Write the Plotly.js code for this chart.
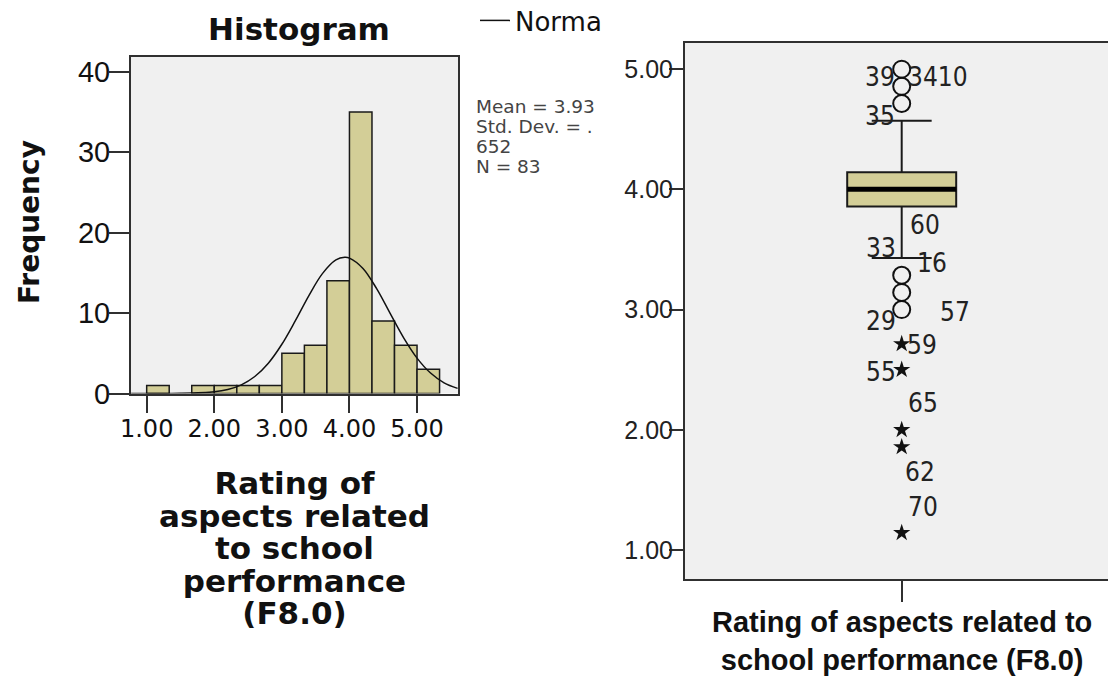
<!DOCTYPE html>
<html>
<head>
<meta charset="utf-8">
<script src="https://cdn.plot.ly/plotly-3.0.1.min.js"></script>
<style>html,body{margin:0;padding:0;background:#fff;}#chart{width:1108px;height:679px;}</style>
</head>
<body>
<div id="chart"></div>
<script>
// ---------- Histogram data ----------
const binStart = [1.0, 1.6667, 2.0, 2.3333, 2.6667, 3.0, 3.3333, 3.6667, 4.0, 4.3333, 4.6667, 5.0];
const binCount = [1, 1, 1, 1, 1, 5, 6, 14, 35, 9, 6, 3];
const binWidth = 1 / 3;
// Normal curve
const normX = [0.77, 1.0, 1.5, 2.0, 2.2, 2.4, 2.6, 2.8, 3.0, 3.2, 3.4, 3.6, 3.8, 3.93, 4.0, 4.2, 4.4, 4.6, 4.8, 5.0, 5.2, 5.4, 5.6];
const normY = [0, 0, 0.02, 0.21, 0.5, 1.08, 2.11, 3.77, 6.12, 9.05, 12.17, 14.9, 16.6, 16.93, 16.83, 15.54, 13.06, 9.99, 6.95, 4.4, 2.54, 1.33, 0.64];
const statsLines = ['Mean = 3.93', 'Std. Dev. = .', '652', 'N = 83'];
const histTitle = 'Histogram';
const histYTitle = 'Frequency';
const histXTitleLines = ['Rating of', 'aspects related', 'to school', 'performance', '(F8.0)'];
const legendName = 'Norma';

// ---------- Boxplot data ----------
const boxQ1 = 3.857;
const boxMedian = 4.0;
const boxQ3 = 4.143;
const boxLowerFence = 3.429;
const boxUpperFence = 4.571;
const outlierCircles = [5.0, 4.857, 4.714, 3.286, 3.143, 3.0];
const outlierStars = [2.714, 2.5, 2.0, 1.857, 1.143];
const caseLabels = ['39', '3410', '35', '60', '33', '16', '29', '57', '59', '55', '65', '62', '70'];
const caseLabelValues = [5.0, 5.0, 4.714, 3.286, 3.286, 3.143, 3.0, 3.0, 2.714, 2.5, 2.0, 1.857, 1.143];
const boxXTitleLines = ['Rating of aspects related to', 'school performance (F8.0)'];

// ---------- Styles / positions ----------
const W = 1108, H = 679;
const px = v => v / W;
const py = v => (H - v) / H;
const khaki = '#d3ce97';
const frame = '#303030';
const boxWidth = 1.09;
const labelShifts = [[-22, -8], [36, -8], [-22, -12], [23, 50], [-21, 27], [30, 29], [-21, -11], [53, -2], [20, -1], [-21, -2], [21, 27], [18, -25], [21, 26]];
const sized = (lines, size) => lines.map(l => '<span style="font-size:' + size + 'px">' + l + '</span>').join('<br>');

const traces = [
  {
    type: 'bar', x: binStart, y: binCount, width: binWidth, offset: 0,
    marker: {color: khaki, line: {color: '#1a1a1a', width: 1.5}},
    xaxis: 'x', yaxis: 'y', showlegend: false, hoverinfo: 'skip'
  },
  {
    type: 'scatter', mode: 'lines', x: normX, y: normY, name: legendName,
    line: {color: '#111', width: 1.5, shape: 'spline'},
    xaxis: 'x', yaxis: 'y', showlegend: true
  },
  {
    type: 'box', x: [0], q1: [boxQ1], median: [boxMedian], q3: [boxQ3],
    lowerfence: [boxLowerFence], upperfence: [boxUpperFence],
    width: boxWidth, whiskerwidth: 0.55, boxpoints: false,
    fillcolor: khaki, line: {color: '#1a1a1a', width: 2},
    xaxis: 'x2', yaxis: 'y2', showlegend: false
  },
  {
    type: 'scatter', mode: 'lines', x: [-boxWidth / 2, boxWidth / 2], y: [boxMedian, boxMedian],
    line: {color: '#000', width: 5}, xaxis: 'x2', yaxis: 'y2', showlegend: false
  },
  {
    type: 'scatter', mode: 'markers', x: outlierCircles.map(() => 0), y: outlierCircles,
    marker: {symbol: 'circle-open', size: 17, color: '#111', line: {width: 2, color: '#111'}},
    xaxis: 'x2', yaxis: 'y2', showlegend: false
  },
  {
    type: 'scatter', mode: 'markers', x: outlierStars.map(() => 0), y: outlierStars,
    marker: {symbol: 'star', size: 13, color: '#111'},
    xaxis: 'x2', yaxis: 'y2', showlegend: false
  }
];

const annotations = [];
annotations.push({
  text: histYTitle, xref: 'paper', yref: 'paper', x: px(30), y: py(222),
  xanchor: 'center', yanchor: 'middle', textangle: -90, showarrow: false,
  font: {family: 'DejaVu Sans', size: 28, weight: 'bold', color: '#111'}
});
annotations.push({
  text: sized(histXTitleLines, 31), xref: 'paper', yref: 'paper', x: px(294), y: py(548),
  xanchor: 'center', yanchor: 'middle', align: 'center', showarrow: false,
  font: {family: 'DejaVu Sans', size: 25, weight: 'bold', color: '#111'}
});
annotations.push({
  text: sized(statsLines, 18.5), xref: 'paper', yref: 'paper', x: px(474), y: py(137),
  xanchor: 'left', yanchor: 'middle', align: 'left', showarrow: false,
  font: {family: 'DejaVu Sans', size: 15.5, color: '#444'}
});
caseLabels.forEach((t, i) => annotations.push({
  text: t, xref: 'x2', yref: 'y2', x: 0, y: caseLabelValues[i],
  xshift: labelShifts[i][0], yshift: labelShifts[i][1],
  xanchor: 'center', yanchor: 'middle', showarrow: false,
  font: {family: 'Liberation Sans Narrow, DejaVu Sans Condensed, sans-serif', size: 26, color: '#222'}
}));
annotations.push({
  text: boxXTitleLines.join('<br>'), xref: 'x2', yref: 'paper', x: 0, y: py(604),
  xanchor: 'center', yanchor: 'top', showarrow: false,
  font: {family: 'Liberation Sans', size: 29, weight: 'bold', color: '#111'}
});

const axisCommon = {
  showline: true, linecolor: frame, linewidth: 2, showgrid: false, zeroline: false,
  ticks: 'outside', tickcolor: frame, tickwidth: 2, fixedrange: true
};

const layout = {
  width: W, height: H, margin: {l: 0, r: 0, t: 0, b: 0, autoexpand: false},
  paper_bgcolor: '#fff', plot_bgcolor: '#f0f0f0',
  title: {
    text: histTitle, x: px(299), xref: 'paper', xanchor: 'center', y: py(29), yanchor: 'middle',
    font: {family: 'DejaVu Sans', size: 31, weight: 'bold', color: '#111'}
  },
  showlegend: true,
  legend: {
    x: px(475), y: py(-3), xanchor: 'left', yanchor: 'top', bgcolor: 'rgba(0,0,0,0)',
    font: {family: 'DejaVu Sans', size: 26, color: '#111'}
  },
  xaxis: Object.assign({}, axisCommon, {
    domain: [px(131), px(458)], range: [0.768, 5.606], anchor: 'y', mirror: true,
    tick0: 1, dtick: 1, tickformat: '.2f', ticklen: 17, ticklabelstandoff: -4,
    tickfont: {family: 'DejaVu Sans', size: 24, color: '#111'}
  }),
  yaxis: Object.assign({}, axisCommon, {
    domain: [py(393.5), py(56.7)], range: [0, 41.86], anchor: 'x', mirror: true,
    tick0: 0, dtick: 10, ticklen: 20, ticklabelstandoff: -7,
    tickfont: {family: 'Liberation Sans', size: 29, color: '#111'}
  }),
  xaxis2: Object.assign({}, axisCommon, {
    domain: [px(685), 1], range: [-2.167, 2.063], anchor: 'y2', mirror: true,
    tickvals: [0], showticklabels: false, ticklen: 21
  }),
  yaxis2: Object.assign({}, axisCommon, {
    domain: [py(579), py(42.7)], range: [0.759, 5.22], anchor: 'x2', mirror: false,
    tick0: 1, dtick: 1, tickformat: '.2f', ticklen: 14, ticklabelstandoff: -9,
    tickfont: {family: 'Liberation Sans', size: 25, color: '#222'}
  }),
  annotations: annotations
};

Plotly.newPlot('chart', traces, layout, {displayModeBar: false, staticPlot: true});
</script>
</body>
</html>
